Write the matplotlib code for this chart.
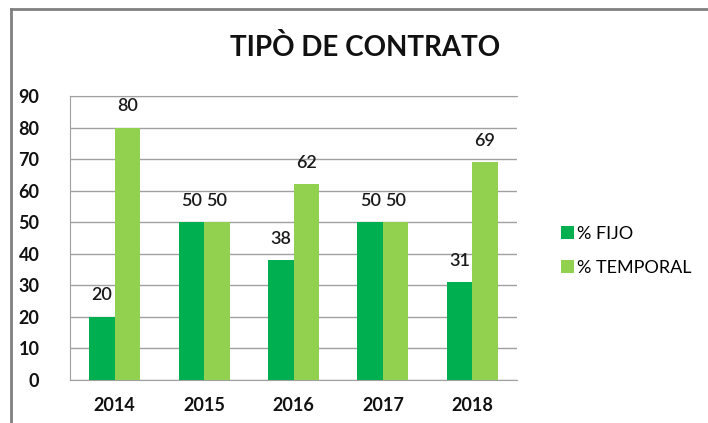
import matplotlib
matplotlib.use("Agg")
import matplotlib.pyplot as plt
from matplotlib.lines import Line2D
import numpy as np

years = ["2014", "2015", "2016", "2017", "2018"]
fijo = [20, 50, 38, 50, 31]
temporal = [80, 50, 62, 50, 69]
series_names = ["% FIJO", "% TEMPORAL"]
title = "TIPÒ DE CONTRATO"

plt.rcParams['font.family'] = ['Lato', 'DejaVu Sans']

fig = plt.figure(figsize=(7.08, 4.23), dpi=100)
ax = fig.add_axes([70/708, 1-380/423, (517-70)/708, (380-96)/423])

x = np.arange(len(years))
w = 0.285
c1, c2 = "#00B050", "#92D050"
b1 = ax.bar(x - w/2, fijo, w, color=c1, label=series_names[0], zorder=3)
b2 = ax.bar(x + w/2, temporal, w, color=c2, label=series_names[1], zorder=3)

for bars, vals in ((b1, fijo), (b2, temporal)):
    for r, v in zip(bars, vals):
        ax.text(r.get_x() + r.get_width()/2, v + 4.3, str(v), ha='center', va='bottom',
                fontsize=13, fontweight='semibold', color='#1a1a1a')

ax.set_xlim(-0.5, len(years) - 0.5)
ax.set_ylim(0, 90)
ax.set_yticks(range(0, 91, 10))
ax.set_xticks(x)
ax.set_xticklabels(years)
ax.yaxis.grid(True, color='#a0a0a0', linewidth=1, zorder=0)
ax.set_axisbelow(True)
ax.spines['right'].set_visible(False)
for s in ['left', 'bottom', 'top']:
    ax.spines[s].set_color('#a0a0a0')
ax.tick_params(axis='both', length=0, labelsize=13, colors='#111111')
ax.tick_params(axis='y', pad=22)
ax.tick_params(axis='x', pad=12)
for lab in ax.get_xticklabels() + ax.get_yticklabels():
    lab.set_fontweight('bold')

fig.text(365/708, 1-48/423, title, ha='center', va='center', fontsize=20, fontweight='bold', color='#111111')

leg = fig.legend(handles=[b1, b2], labels=series_names, loc='center left',
                 bbox_to_anchor=(545/708, 1-251/423), frameon=False, fontsize=13,
                 handlelength=0.7, handleheight=0.7, handletextpad=0.15, labelspacing=1.0)

# outer chart border (left and top visible)
fig.add_artist(Line2D([11/708, 11/708], [0, 1-9/423], transform=fig.transFigure, color='#808080', linewidth=2))
fig.add_artist(Line2D([11/708, 1], [1-9/423, 1-9/423], transform=fig.transFigure, color='#808080', linewidth=2))

fig.savefig("out.png", dpi=100)
